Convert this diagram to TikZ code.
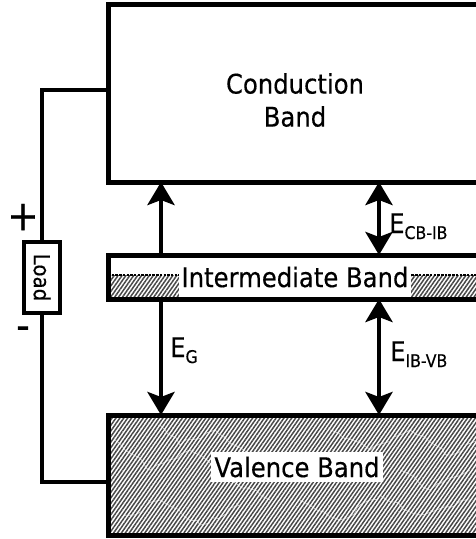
\documentclass[tikz,border=0pt]{standalone}
\usepackage{fontspec}
\setmainfont{DejaVu Sans}[FakeStretch=0.9,FakeBold=0.4]
\usetikzlibrary{arrows.meta,patterns.meta,decorations.pathmorphing}
\newcommand\sbs[1]{\raisebox{-6pt}{\fontsize{17.5}{17.5}\selectfont #1}}
\begin{document}
\begin{tikzpicture}[x=1pt,y=-1pt,
  band/.style={draw, line width=5pt, anchor=north west, inner sep=0pt, outer sep=0pt, minimum width=380pt},
  wire/.style={line width=4pt},
  tip/.tip={Stealth[width=27pt,length=23pt,inset=5pt]},
  arr/.style={line width=4.5pt, -tip},
  darr/.style={line width=4.5pt, tip-tip},
  lbl/.style={font=\fontsize{27}{33}\selectfont, align=center},
  hatch/.style={pattern={Lines[angle=55,distance=3.2pt,line width=1.5pt]}, pattern color=black!72},
  crack/.style={draw=white, line width=0.8pt, opacity=0.6, decorate,
     decoration={random steps, segment length=7pt, amplitude=2.5pt}},
  sign/.style={font=\fontsize{42}{42}\selectfont, inner sep=0pt}
]
\useasboundingbox (0,0) rectangle (476,539);
\clip (0,0) rectangle (476,539);

% bands
\node[band, minimum height=178pt] (cb) at (108,4) {};
\fill[hatch] (108,275) rectangle (490,299);
\node[band, minimum height=44pt] (ib) at (108,255) {};
\node[band, hatch, minimum height=120pt] (vb) at (108,415) {};

% texture in the valence band
\pgfmathsetseed{7}
\begin{scope}
  \clip (112,419) rectangle (490,531);
  \path[crack] (115,440) -- (150,470) -- (190,450) -- (230,480) -- (270,500);
  \path[crack] (120,520) -- (160,500) -- (200,525) -- (240,505);
  \path[crack] (160,425) -- (180,445) -- (215,430) -- (250,455);
  \path[crack] (300,500) -- (340,520) -- (380,495) -- (420,515) -- (470,500);
  \path[crack] (330,430) -- (370,450) -- (410,430) -- (450,455) -- (480,440);
  \path[crack] (400,470) -- (430,490) -- (470,470);
\end{scope}

% dotted level in intermediate band
\coordinate (dl) at (108,275);
\draw[line width=2.6pt, dash pattern=on 2.5pt off 1.2pt] (dl) -- ++(380,0);

% band labels
\node[lbl] (cbt) at (295,100) {Conduction\\Band};
\node[lbl, fill=white, inner xsep=3pt, inner ysep=0pt, minimum height=39pt] (ibt) at (295,277) {Intermediate Band};
\node[lbl, fill=white, inner xsep=3pt, inner ysep=0pt, minimum height=30pt] (vbt) at (297,467) {Valence Band};

% circuit
\node[draw, line width=4pt, rotate=-90, minimum width=71pt, minimum height=36pt, inner sep=0pt,
      font=\fontsize{22}{22}\selectfont] (load) at (42,277.5) {Load};
\coordinate (cbw) at (108,90);
\coordinate (vbw) at (108,482);
\draw[wire] (load.west) |- (cbw);
\draw[wire] (load.east) |- (vbw);
\node[sign] (plus) at (23,217) {+};
\node[sign] (minus) at (23,333) {-};

% transitions
\coordinate (xl) at (161,0);
\coordinate (xr) at (379,0);
\draw[arr] (ib.north -| xl) -- (cb.south -| xl);
\draw[arr] (ib.south -| xl) -- (vb.north -| xl);
\draw[darr] (ib.north -| xr) -- (cb.south -| xr);
\draw[darr] (ib.south -| xr) -- (vb.north -| xr);

\node[lbl, anchor=base west, inner sep=0pt] (ecb) at (389,233) {E\sbs{CB-IB}};
\node[lbl, anchor=base west, inner sep=0pt] (eg) at (170,357) {E\sbs{G}};
\node[lbl, anchor=base west, inner sep=0pt] (eib) at (390,361) {E\sbs{IB-VB}};
\end{tikzpicture}
\end{document}
